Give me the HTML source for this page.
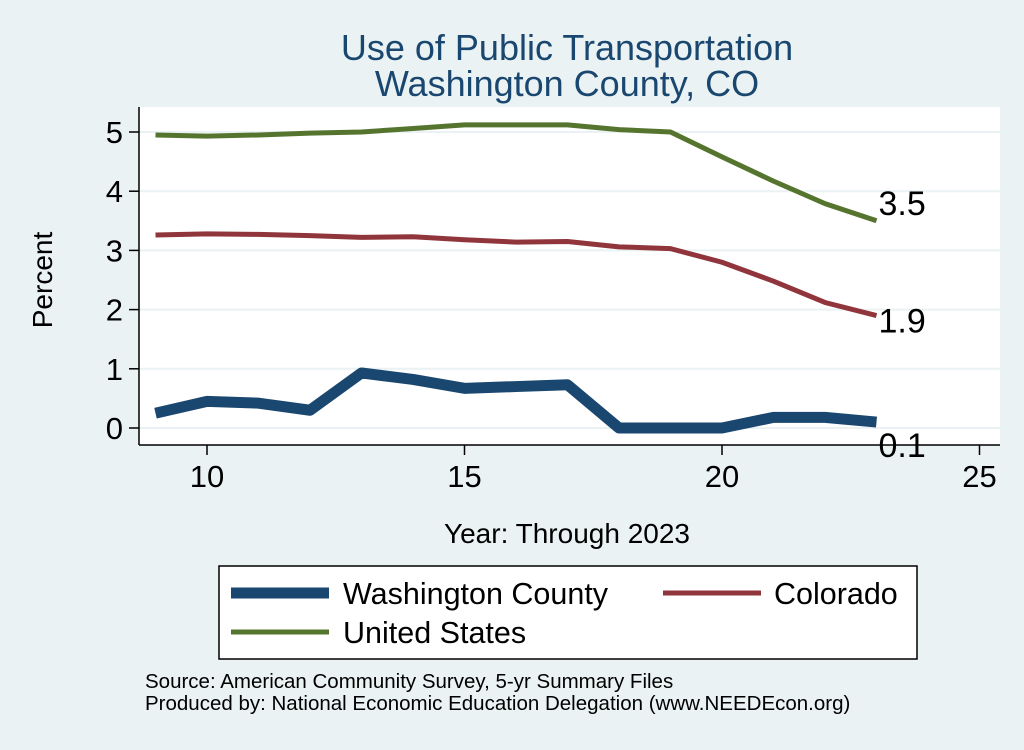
<!DOCTYPE html>
<html><head><meta charset="utf-8"><style>
body{margin:0;background:#eaf2f3;font-family:"Liberation Sans",sans-serif;}
svg text{font-family:"Liberation Sans",sans-serif;}
</style></head><body>
<svg id="chart" width="1024" height="745" xmlns="http://www.w3.org/2000/svg">
<rect width="1024" height="745" fill="#eaf2f3"/>
<text x="567" y="60" font-size="36" fill="#1a476f" text-anchor="middle">Use of Public Transportation</text>
<text x="567" y="96" font-size="36" fill="#1a476f" text-anchor="middle">Washington County, CO</text>
<rect x="139" y="107" width="861" height="338" fill="#fff"/>
<g id="grid"></g><g id="axes"></g><g id="series"></g>
<text x="52" y="280" font-size="28" text-anchor="middle" transform="rotate(-90 52 280)">Percent</text>
<text x="567" y="543" font-size="28" text-anchor="middle">Year: Through 2023</text>
<g>
<rect x="219" y="566" width="698" height="93" fill="#fff" stroke="#000" stroke-width="1.5"/>
<line x1="231" y1="593" x2="329" y2="593" stroke="#1a476f" stroke-width="11"/>
<text x="343" y="604" font-size="30.5">Washington County</text>
<line x1="663" y1="593" x2="761" y2="593" stroke="#90353b" stroke-width="5"/>
<text x="774" y="604" font-size="30.5">Colorado</text>
<line x1="231" y1="632" x2="329" y2="632" stroke="#55752f" stroke-width="5"/>
<text x="343" y="643" font-size="30.5">United States</text>
</g>
<text x="145" y="688" font-size="20.5">Source: American Community Survey, 5-yr Summary Files</text>
<text x="145" y="710" font-size="20.5">Produced by: National Economic Education Delegation (www.NEEDEcon.org)</text>
</svg>
<script>
const years=[9,10,11,12,13,14,15,16,17,18,19,20,21,22,23];
const usVals=[4.95,4.93,4.95,4.98,5.0,5.06,5.12,5.12,5.12,5.04,5.0,4.58,4.17,3.79,3.5];
const coVals=[3.26,3.28,3.27,3.25,3.22,3.23,3.18,3.14,3.15,3.06,3.03,2.8,2.48,2.12,1.9];
const wcVals=[0.25,0.45,0.42,0.3,0.93,0.82,0.67,0.7,0.73,0,0,0,0.18,0.18,0.1];
const yTicks=[0,1,2,3,4,5];
const xTicks=[10,15,20,25];
const endLabels=["3.5","1.9","0.1"];
const NS="http://www.w3.org/2000/svg";
const X=v=>207+(v-10)*51.5, Y=v=>428-v*59.2;
function mk(t,a,p){const e=document.createElementNS(NS,t);for(const k in a)e.setAttribute(k,a[k]);p.appendChild(e);return e;}
const grid=document.getElementById('grid'),axes=document.getElementById('axes'),ser=document.getElementById('series');
yTicks.forEach(v=>{
 const g=mk('line',{x1:139,x2:1000,y1:Y(v),y2:Y(v),stroke:'#eaf2f3','stroke-width':2},grid);
 
 
 const t=mk('line',{x1:129,x2:139,y1:Y(v),y2:Y(v),stroke:'#000','stroke-width':1.5},axes);
 
 
 const l=mk('text',{x:123,y:Y(v)+11,'font-size':31,'text-anchor':'end'},axes);l.textContent=v;
 
 
});
xTicks.forEach(v=>{
 const t=mk('line',{x1:X(v),x2:X(v),y1:445,y2:455,stroke:'#000','stroke-width':1.5},axes);
 
 
 const l=mk('text',{x:X(v),y:487,'font-size':31,'text-anchor':'middle'},axes);l.textContent=v;
 
 
});
const ya=mk('line',{x1:139,x2:139,y1:107,y2:445,stroke:'#000','stroke-width':1.5},axes);


const xa=mk('line',{x1:139,x2:1000,y1:445,y2:445,stroke:'#000','stroke-width':1.5},axes);


const specs=[[usVals,'#55752f',5,'line-united-states',endLabels[0],-6],[coVals,'#90353b',5,'line-colorado',endLabels[1],17],[wcVals,'#1a476f',11,'line-washington-county',endLabels[2],35]];
specs.forEach(([vals,c,w,n,lab,dy])=>{
 const p=mk('polyline',{points:vals.map((v,i)=>X(years[i])+','+Y(v)).join(' '),fill:'none',stroke:c,'stroke-width':w,'stroke-linejoin':'round'},ser);
 
 
 const last=vals[vals.length-1];
 const t=mk('text',{x:X(years[years.length-1])+2,y:Y(last)+dy,'font-size':34},ser);t.textContent=lab;
 
 
});
</script>
</body></html>
